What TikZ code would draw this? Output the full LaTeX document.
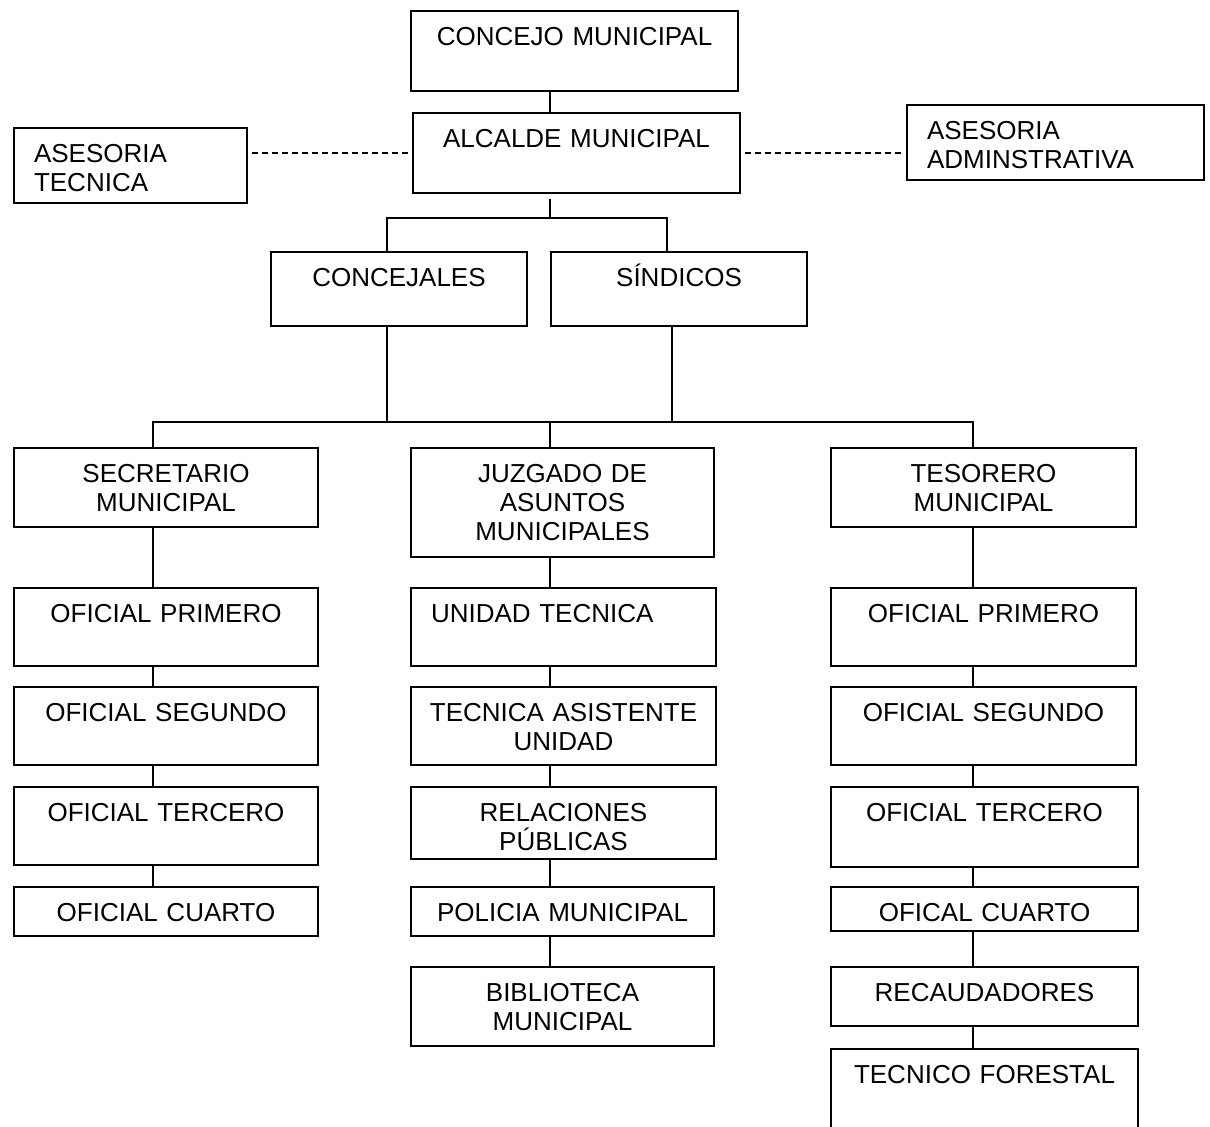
\documentclass[tikz,border=0pt]{standalone}
\usepackage{fontspec}
\setmainfont{Liberation Sans}

\begin{document}
\begin{tikzpicture}[x=0.5pt,y=-0.5pt,
    unit/.style={draw, line width=1pt, anchor=north west, inner sep=0pt,
      align=center, text height=17pt, font=\fontsize{13}{14.5}\selectfont},
    unitl/.style={unit, align=left, inner xsep=10pt},
    link/.style={line width=0.75pt},
    staff/.style={link, dash pattern=on 3pt off 2pt, shorten <=2pt, shorten >=2pt}]
    \useasboundingbox (0,0) rectangle (1210,1126);

    % top of the chart
    \node[unit, text width=163.5pt, text depth=23pt] (concejo) at (410,10) {CONCEJO MUNICIPAL};
    \node[unit, text width=163.5pt, text depth=23pt] (alcalde) at (412,112) {ALCALDE MUNICIPAL};
    \node[unitl, text width=96.5pt, text depth=20.5pt] (asetec) at (13,127) {ASESORIA\\TECNICA};
    \node[unitl, text width=128.5pt, text depth=20.5pt] (aseadm) at (906,104) {ASESORIA\\ADMINSTRATIVA};
    \node[unit, text width=128pt, text depth=20pt] (concejales) at (270,251) {CONCEJALES};
    \node[unit, text width=128pt, text depth=20pt] (sindicos) at (550,251) {SÍNDICOS};

    % heads of the three branches
    \node[unit, text width=152pt, text depth=22.5pt] (secretario) at (13,447) {SECRETARIO\\MUNICIPAL};
    \node[unit, text width=151.5pt, text depth=37.5pt] (juzgado) at (410,447) {JUZGADO DE\\ASUNTOS\\MUNICIPALES};
    \node[unit, text width=152.5pt, text depth=22.5pt] (tesorero) at (830,447) {TESORERO\\MUNICIPAL};

    % left branch
    \node[unit, text width=152pt, text depth=22pt] (ofp1) at (13,587) {OFICIAL PRIMERO};
    \node[unit, text width=152pt, text depth=22pt] (ofs1) at (13,686) {OFICIAL SEGUNDO};
    \node[unit, text width=152pt, text depth=22pt] (oft1) at (13,786) {OFICIAL TERCERO};
    \node[unit, text width=152pt, text depth=7.5pt] (ofc1) at (13,886) {OFICIAL CUARTO};

    % middle branch
    \node[unitl, text width=132.5pt, text depth=22pt] (unidad) at (410,587) {UNIDAD TECNICA};
    \node[unit, text width=152.5pt, text depth=22pt] (asistente) at (410,686) {TECNICA ASISTENTE\\UNIDAD};
    \node[unit, text width=152.5pt, text depth=19pt] (relaciones) at (410,786) {RELACIONES\\PÚBLICAS};
    \node[unit, text width=151.5pt, text depth=7.5pt] (policia) at (410,886) {POLICIA MUNICIPAL};
    \node[unit, text width=151.5pt, text depth=22.5pt] (biblioteca) at (410,966) {BIBLIOTECA\\MUNICIPAL};

    % right branch
    \node[unit, text width=152.5pt, text depth=22pt] (ofp2) at (830,587) {OFICIAL PRIMERO};
    \node[unit, text width=152.5pt, text depth=22pt] (ofs2) at (830,686) {OFICIAL SEGUNDO};
    \node[unit, text width=153.5pt, text depth=23pt] (oft2) at (830,786) {OFICIAL TERCERO};
    \node[unit, text width=153.5pt, text depth=5pt] (ofc2) at (830,886) {OFICAL CUARTO};
    \node[unit, text width=153.5pt, text depth=12.5pt] (recaud) at (830,966) {RECAUDADORES};
    \node[unit, text width=153.5pt, text depth=26pt] (forestal) at (830,1048) {TECNICO FORESTAL};

    % x and y of the connectors
    \coordinate (trunk) at (550,0);
    \coordinate (lcol) at (153,0);
    \coordinate (rcol) at (973,0);
    \coordinate (cjx) at (387,0);
    \coordinate (sdx) at (667,0);
    \coordinate (sdlow) at (672,0);
    \coordinate (bus1) at (0,218);
    \coordinate (bus2) at (0,422);

    \draw[link] (concejo.south -| trunk) -- (alcalde.north -| trunk);
    \draw[staff] (alcalde.west) -- (alcalde.west -| asetec.east);
    \draw[staff] (alcalde.east) -- (alcalde.east -| aseadm.west);
    \draw[link, shorten <=2.5pt] (alcalde.south -| trunk) -- (trunk |- bus1);
    \draw[link] (concejales.north -| cjx) |- (bus1 -| sdx) -- (sindicos.north -| sdx);
    \draw[link] (concejales.south -| cjx) -- (cjx |- bus2);
    \draw[link] (sindicos.south -| sdlow) -- (sdlow |- bus2);
    \draw[link] (secretario.north -| lcol) |- (bus2 -| rcol) -- (tesorero.north -| rcol);
    \draw[link] (bus2 -| trunk) -- (juzgado.north -| trunk);

    \foreach \a/\b in {secretario/ofp1, ofp1/ofs1, ofs1/oft1, oft1/ofc1}
        \draw[link] (\a.south -| lcol) -- (\b.north -| lcol);
    \foreach \a/\b in {juzgado/unidad, unidad/asistente, asistente/relaciones, relaciones/policia, policia/biblioteca}
        \draw[link] (\a.south -| trunk) -- (\b.north -| trunk);
    \foreach \a/\b in {tesorero/ofp2, ofp2/ofs2, ofs2/oft2, oft2/ofc2, ofc2/recaud, recaud/forestal}
        \draw[link] (\a.south -| rcol) -- (\b.north -| rcol);
\end{tikzpicture}
\end{document}
